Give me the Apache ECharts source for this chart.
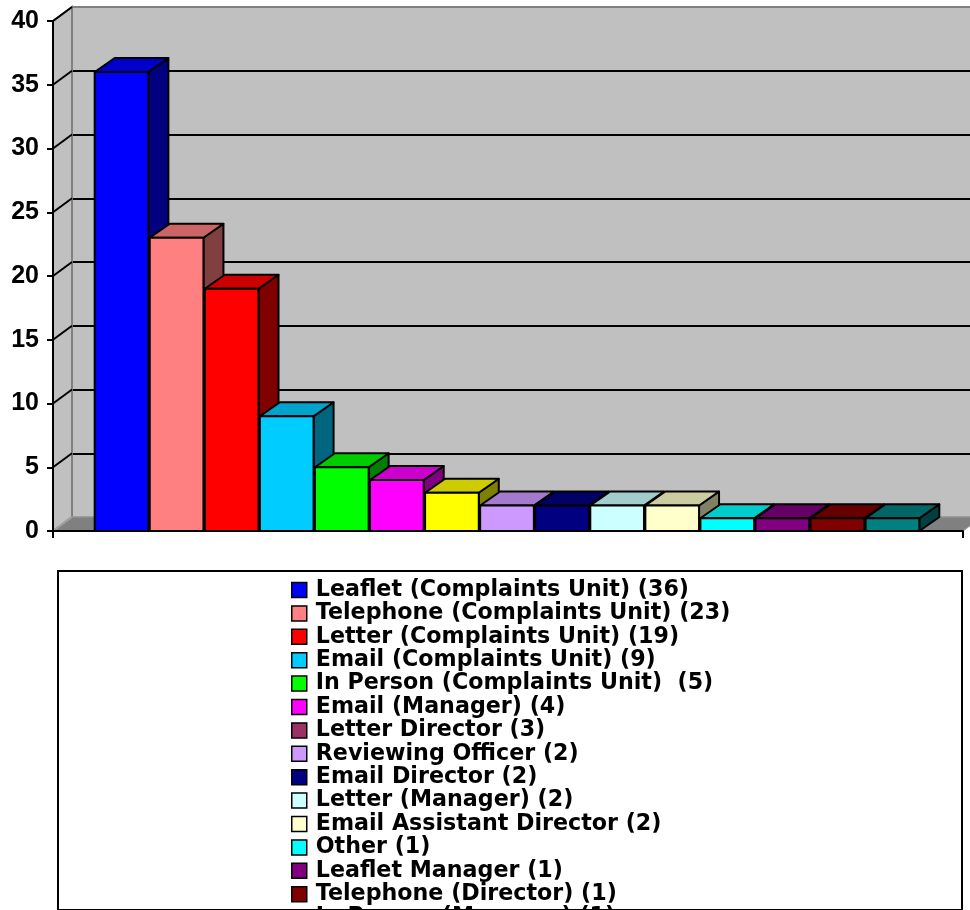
<!DOCTYPE html>
<html>
<head>
<meta charset="utf-8">
<script src="https://cdn.jsdelivr.net/npm/echarts@6/dist/echarts.min.js"></script>
<style>
  html, body { margin: 0; padding: 0; background: #fff; }
  #chart { width: 970px; height: 910px; }
</style>
</head>
<body>
<div id="chart"></div>
<script>
// Complaint channels and their counts
const categories = [
  'Leaflet (Complaints Unit) (36)',
  'Telephone (Complaints Unit) (23)',
  'Letter (Complaints Unit) (19)',
  'Email (Complaints Unit) (9)',
  'In Person (Complaints Unit)  (5)',
  'Email (Manager) (4)',
  'Letter Director (3)',
  'Reviewing Officer (2)',
  'Email Director (2)',
  'Letter (Manager) (2)',
  'Email Assistant Director (2)',
  'Other (1)',
  'Leaflet Manager (1)',
  'Telephone (Director) (1)',
  'In Person (Manager) (1)'
];
const values = [36, 23, 19, 9, 5, 4, 3, 2, 2, 2, 2, 1, 1, 1, 1];

// Front-face colour of each bar
const barColors = [
  '#0000FF', '#FF8080', '#FF0000', '#00CCFF', '#00FF00', '#FF00FF', '#FFFF00',
  '#CC99FF', '#000080', '#CCFFFF', '#FFFFCC', '#00FFFF', '#800080', '#800000', '#008080'
];
// Swatch colour of each legend entry
const legendColors = [
  '#0000FF', '#FF8080', '#FF0000', '#00CCFF', '#00FF00', '#FF00FF', '#993366',
  '#CC99FF', '#000080', '#CCFFFF', '#FFFFCC', '#00FFFF', '#800080', '#800000', '#008080'
];

// Value axis
const yMin = 0;
const yMax = 40;
const yStep = 5;
const yTicks = [0, 5, 10, 15, 20, 25, 30, 35, 40];

// 3-D depth offsets (pixels)
const BAR_DX = 20, BAR_DY = -14;
const WALL_DX = 19, WALL_DY = -14;

const AXIS_FONT = '"Liberation Sans", Arial, sans-serif';
const LEGEND_FONT = '"DejaVu Sans", Verdana, sans-serif';

function shade(hex, f) {
  const n = parseInt(hex.slice(1), 16);
  const r = Math.round(((n >> 16) & 255) * f);
  const g = Math.round(((n >> 8) & 255) * f);
  const b = Math.round((n & 255) * f);
  return 'rgb(' + r + ',' + g + ',' + b + ')';
}

// Side wall, floor and tick diagonals of the 3-D frame
function renderFrame(params, api) {
  const children = [];
  const p0 = api.coord([0, yMin]);
  const pTop = api.coord([0, yMax]);
  const pEnd = api.coord([1, yMin]);
  children.push({
    type: 'polygon',
    shape: { points: [p0, pTop, [pTop[0] + WALL_DX, pTop[1] + WALL_DY], [p0[0] + WALL_DX, p0[1] + WALL_DY]] },
    style: { fill: '#C0C0C0', stroke: '#808080', lineWidth: 2 }
  });
  children.push({
    type: 'polygon',
    shape: { points: [p0, pEnd, [pEnd[0] + WALL_DX, pEnd[1] + WALL_DY], [p0[0] + WALL_DX, p0[1] + WALL_DY]] },
    style: { fill: '#808080', stroke: '#9A9A9A', lineWidth: 1 }
  });
  yTicks.forEach(function (t) {
    const p = api.coord([0, t]);
    children.push({
      type: 'line',
      shape: { x1: p[0], y1: p[1], x2: p[0] + WALL_DX, y2: p[1] + WALL_DY },
      style: { stroke: t === yMin ? '#A0A0A0' : '#000', lineWidth: 2 }
    });
  });
  return { type: 'group', children: children };
}

// One 3-D bar: side face, top face, front face
function renderBar(params, api) {
  const i = api.value(0);
  const v = api.value(1);
  const top = api.coord([i, v]);
  const base = api.coord([i, 0]);
  const band = api.size([1, 0])[0];
  const w = band * 0.975;
  const x0 = top[0] - w / 2, x1 = top[0] + w / 2;
  const yt = top[1], yb = base[1];
  const c = barColors[i];
  const edge = { stroke: '#000', lineWidth: 2, lineJoin: 'round' };
  return {
    type: 'group',
    children: [
      {
        type: 'polygon',
        shape: { points: [[x1, yt], [x1 + BAR_DX, yt + BAR_DY], [x1 + BAR_DX, yb + BAR_DY], [x1, yb]] },
        style: Object.assign({ fill: shade(c, 0.5) }, edge)
      },
      {
        type: 'polygon',
        shape: { points: [[x0, yt], [x1, yt], [x1 + BAR_DX, yt + BAR_DY], [x0 + BAR_DX, yt + BAR_DY]] },
        style: Object.assign({ fill: shade(c, 0.8) }, edge)
      },
      {
        type: 'rect',
        shape: { x: x0, y: yt, width: w, height: yb - yt },
        style: Object.assign({ fill: c }, edge)
      }
    ]
  };
}

const chart = echarts.init(document.getElementById('chart'), null, { renderer: 'canvas' });

const barSeries = categories.map(function (name, i) {
  return {
    type: 'custom',
    name: name,
    xAxisIndex: 1,
    yAxisIndex: 1,
    z: 3,
    itemStyle: { color: legendColors[i] },
    renderItem: renderBar,
    data: [[i, values[i]]]
  };
});

chart.setOption({
  animation: false,
  backgroundColor: '#fff',
  grid: [
    // front plane: visible value axis and floor edge
    { left: 53, top: 21, width: 910, height: 510 },
    // bar plane
    { left: 94, top: 21, width: 826, height: 510 },
    // back wall
    { left: 72, top: 7, width: 930, height: 510, show: true, backgroundColor: '#C0C0C0', borderWidth: 0 }
  ],
  xAxis: [
    {
      gridIndex: 0, type: 'value', min: 0, max: 1, interval: 1, z: 10,
      axisLine: { show: true, lineStyle: { color: '#000', width: 2 } },
      axisTick: { show: true, length: 7, lineStyle: { color: '#000', width: 2 } },
      axisLabel: { show: false },
      splitLine: { show: false }
    },
    {
      gridIndex: 1, type: 'category', data: categories, show: false
    },
    {
      gridIndex: 2, type: 'value', min: 0, max: 1, show: false
    }
  ],
  yAxis: [
    {
      gridIndex: 0, type: 'value', min: yMin, max: yMax, interval: yStep, z: 10,
      axisLine: { show: true, lineStyle: { color: '#000', width: 2 } },
      axisTick: { show: true, length: 6, lineStyle: { color: '#000', width: 2 } },
      axisLabel: { show: true, margin: 14, color: '#000', fontSize: 25, fontWeight: 'bold', fontFamily: AXIS_FONT },
      splitLine: { show: false }
    },
    {
      gridIndex: 1, type: 'value', min: yMin, max: yMax, interval: yStep, show: false
    },
    {
      gridIndex: 2, type: 'value', min: yMin, max: yMax, interval: yStep,
      axisLine: { show: true, lineStyle: { color: '#808080', width: 2 } },
      axisTick: { show: false },
      axisLabel: { show: false },
      splitLine: {
        show: true,
        lineStyle: {
          width: 2,
          color: ['#A0A0A0', '#000', '#000', '#000', '#000', '#000', '#000', '#000', '#808080']
        }
      }
    }
  ],
  legend: {
    orient: 'vertical',
    left: 291,
    top: 579,
    height: 700,
    padding: 0,
    itemGap: 1.4,
    itemWidth: 15,
    itemHeight: 15,
    icon: 'rect',
    selectedMode: false,
    itemStyle: { borderColor: '#000', borderWidth: 1.5 },
    textStyle: {
      color: '#000', fontSize: 22.2, fontWeight: 'bold', fontFamily: LEGEND_FONT,
      lineHeight: 22, padding: [0, 0, 0, 4]
    },
    data: categories.map(function (n, i) {
      return { name: n, itemStyle: { color: legendColors[i] } };
    })
  },
  graphic: [
    {
      type: 'rect', left: 57, top: 570, z: -1,
      shape: { width: 904, height: 339 },
      style: { fill: '#fff', stroke: '#000', lineWidth: 2 }
    }
  ],
  series: [
    {
      type: 'custom',
      name: 'frame',
      xAxisIndex: 0,
      yAxisIndex: 0,
      z: 1,
      silent: true,
      renderItem: renderFrame,
      data: [[0]]
    }
  ].concat(barSeries)
});
</script>
</body>
</html>
